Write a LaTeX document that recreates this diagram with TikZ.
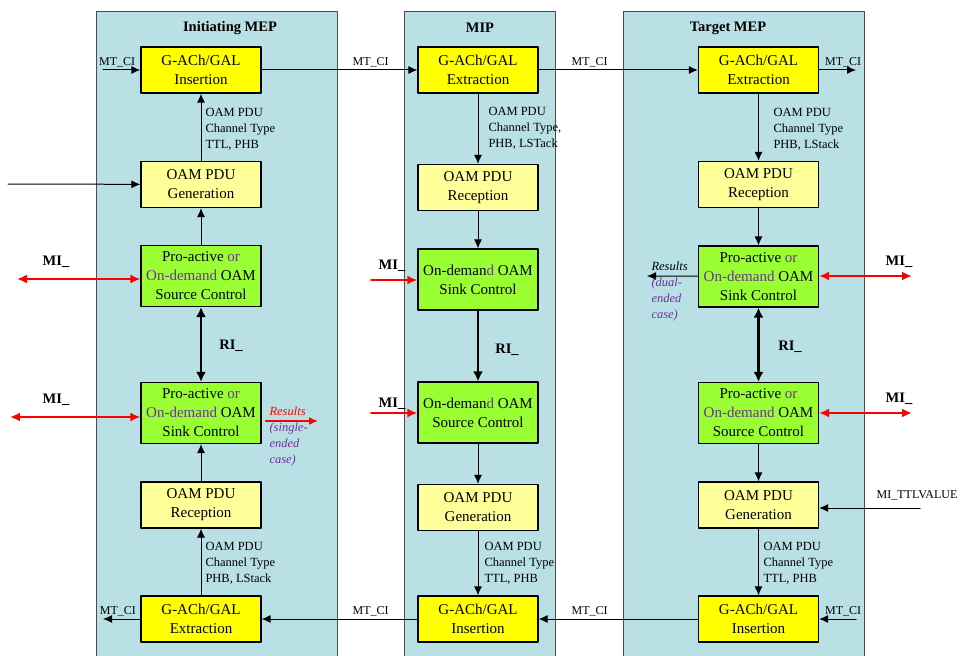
\documentclass[tikz,border=0pt]{standalone}
\usepackage{fontspec}
\setmainfont{Liberation Serif}
\usepackage{tikz}
\usetikzlibrary{arrows.meta}
\definecolor{panelblue}{RGB}{185,224,228}
\definecolor{gachyellow}{RGB}{255,255,0}
\definecolor{pduyellow}{RGB}{255,255,153}
\definecolor{ctrlgreen}{RGB}{153,255,51}
\definecolor{odpurple}{RGB}{112,48,160}
\newcommand\boxfnt{\fontsize{15}{19}\selectfont}
\newcommand\lblfnt{\fontsize{12.5}{16}\selectfont}
\newcommand\mtfnt{\fontsize{12}{14}\selectfont}
\newcommand\hdfnt{\fontsize{14.5}{17}\selectfont\bfseries}
\newcommand\od[1]{\textcolor{odpurple}{#1}}
\tikzset{
  panel/.style={draw=black!70,fill=panelblue,line width=1pt},
  gach/.style={draw,fill=gachyellow,line width=1.2pt,minimum width=120pt,minimum height=46pt,inner sep=0pt,align=center,font=\boxfnt},
  pdu/.style={gach,fill=pduyellow},
  ctrl/.style={gach,fill=ctrlgreen,minimum height=61pt},
  lbl/.style={font=\lblfnt,align=left,anchor=north west,inner sep=0pt},
  mtci/.style={font=\mtfnt,inner sep=2pt},
  hd/.style={font=\hdfnt,inner sep=0pt},
  flow/.style={-{Latex[length=9pt,width=8pt]},line width=1pt},
  ri/.style={{Latex[length=10pt,width=10pt]}-{Latex[length=10pt,width=10pt]},line width=2.5pt},
  rione/.style={-{Latex[length=10pt,width=10pt]},line width=2.5pt},
  mi/.style={{Latex[length=10pt,width=9pt]}-{Latex[length=10pt,width=9pt]},red,line width=2pt},
  mione/.style={-{Latex[length=10pt,width=9pt]},red,line width=2pt},
  res/.style={font=\lblfnt\itshape,text=odpurple,align=left,anchor=north west,inner sep=0pt}
}
\begin{document}
\begin{tikzpicture}[x=1pt,y=-1pt,line width=1pt,line cap=round,line join=round]
\useasboundingbox (0,0) rectangle (965,655);
\draw[panel] (96,12) rectangle (337,670);
\draw[panel] (404,12) rectangle (555,670);
\draw[panel] (623,12) rectangle (864,670);
\node[hd] (ltitle) at (230,28) {Initiating MEP};
\node[hd] (mtitle) at (480,28) {MIP};
\node[hd] (rtitle) at (728,28) {Target MEP};
% initiating MEP
\node[gach] (lins) at (201,70) {G-ACh/GAL\\Insertion};
\node[pdu] (lgen) at (201,184.5) {OAM PDU\\Generation};
\node[ctrl] (lsrc) at (201,276) {Pro-active \od{or}\\\od{On-demand} OAM\\Source Control};
\node[ctrl] (lsnk) at (201,413) {Pro-active \od{or}\\\od{On-demand} OAM\\Sink Control};
\node[pdu] (lrec) at (201,505) {OAM PDU\\Reception};
\node[gach] (lext) at (201,619) {G-ACh/GAL\\Extraction};
% MIP
\node[gach] (mext) at (478,70) {G-ACh/GAL\\Extraction};
\node[pdu] (mrec) at (478,187.5) {OAM PDU\\Reception};
\node[ctrl] (msnk) at (478,279.5) {On-deman\od{d} OAM\\Sink Control};
\node[ctrl] (msrc) at (478,412.5) {On-deman\od{d} OAM\\Source Control};
\node[pdu] (mgen) at (478,507.5) {OAM PDU\\Generation};
\node[gach] (mins) at (478,619) {G-ACh/GAL\\Insertion};
% target MEP
\node[gach] (rext) at (758.5,70) {G-ACh/GAL\\Extraction};
\node[pdu] (rrec) at (758.5,184.5) {OAM PDU\\Reception};
\node[ctrl] (rsnk) at (758.5,276.5) {Pro-active \od{or}\\\od{On-demand} OAM\\Sink Control};
\node[ctrl] (rsrc) at (758.5,413) {Pro-active \od{or}\\\od{On-demand} OAM\\Source Control};
\node[pdu] (rgen) at (758.5,505) {OAM PDU\\Generation};
\node[gach] (rins) at (758.5,619) {G-ACh/GAL\\Insertion};
\coordinate (lmtin) at (103,70);
\coordinate (lgenin) at (8,184);
\coordinate (lmi1) at (17,279);
\coordinate (lmi2) at (10,417);
\coordinate (lres) at (318,421);
\coordinate (lmtout) at (103,619);
\coordinate (mmi1) at (371,280);
\coordinate (mmi2) at (371,413);
\coordinate (rmtout) at (856,70);
\coordinate (rres) at (647,276);
\coordinate (rmi1) at (912,276);
\coordinate (rmi2) at (912,413);
\coordinate (rttl) at (920,508);
\coordinate (rmtin) at (856,619);
% left
\draw[flow] (lmtin) -- (lins) node[mtci,above,pos=0.38] {MT\_CI};
\draw[flow] (lins) -- (mext) node[mtci,above,pos=0.7] {MT\_CI};
\draw[flow] (lgenin) -- (lgen);
\draw[flow] (lgen) -- (lins);
\node[lbl] (llbl1) at (205,108) {OAM PDU\\Channel Type\\TTL, PHB};
\draw[flow] (lsrc) -- (lgen);
\draw[mi] (lmi1) -- (lmi1 -| lsrc.west);
\node[hd] (lmilbl1) at (56,262) {MI\_};
\draw[ri] (lsrc) -- (lsnk);
\node[hd] (lrilbl) at (231,346) {RI\_};
\draw[mi] (lmi2) -- (lmi2 -| lsnk.west);
\node[hd] (lmilbl2) at (56,400) {MI\_};
\draw[-{Latex[length=9pt,width=8pt]},red,line width=1.5pt,shorten <=4pt] (lsnk.east |- lres) -- (lres);
\node[res] (lreslbl) at (269,406) {\textcolor{red}{Results}\\(single-\\ended\\case)};
\draw[flow] (lrec) -- (lsnk);
\draw[flow] (lext) -- (lrec);
\node[lbl] (llbl2) at (205,542) {OAM PDU\\Channel Type\\PHB, LStack};
\draw[flow] (mins) -- (lext) node[mtci,above,pos=0.3] {MT\_CI};
\draw[flow] (lext) -- (lmtout) node[mtci,above,pos=0.6] {MT\_CI};
% middle
\draw[flow] (mext) -- (rext) node[mtci,above,pos=0.32] {MT\_CI};
\draw[flow] (mext) -- (mrec);
\node[lbl] (mlbl1) at (488,107) {OAM PDU\\Channel Type,\\PHB, LSTack};
\draw[flow] (mrec) -- (msnk);
\draw[mione] (mmi1) -- (mmi1 -| msnk.west);
\node[hd] (mmilbl1) at (392,266) {MI\_};
\draw[rione] (msnk) -- (msrc);
\node[hd] (mrilbl) at (507,350) {RI\_};
\draw[mione] (mmi2) -- (mmi2 -| msrc.west);
\node[hd] (mmilbl2) at (392,404) {MI\_};
\draw[flow] (msrc) -- (mgen);
\draw[flow] (mgen) -- (mins);
\node[lbl] (mlbl2) at (484,542) {OAM PDU\\Channel Type\\TTL, PHB};
\draw[flow] (rins) -- (mins) node[mtci,above,pos=0.68] {MT\_CI};
% right
\draw[flow] (rext) -- (rmtout) node[mtci,above,pos=0.65] {MT\_CI};
\draw[flow] (rext) -- (rrec);
\node[lbl] (rlbl1) at (773,108) {OAM PDU\\Channel Type\\PHB, LStack};
\draw[flow] (rrec) -- (rsnk);
\draw[flow] (rsnk) -- (rres);
\node[res] (rreslbl) at (651,261) {\textcolor{black}{Results}\\(dual-\\ended\\case)};
\draw[mi] (rmi1 -| rsnk.east) -- (rmi1);
\node[hd] (rmilbl1) at (899,262) {MI\_};
\draw[ri] (rsnk) -- (rsrc);
\node[hd] (rrilbl) at (790,347) {RI\_};
\draw[mi] (rmi2 -| rsrc.east) -- (rmi2);
\node[hd] (rmilbl2) at (899,399) {MI\_};
\draw[flow] (rsrc) -- (rgen);
\draw[flow] (rttl) -- (rttl -| rgen.east);
\node[mtci] (rttllbl) at (917,495) {MI\_TTLVALUE};
\draw[flow] (rgen) -- (rins);
\node[lbl] (rlbl2) at (763,542) {OAM PDU\\Channel Type\\TTL, PHB};
\draw[flow] (rmtin) -- (rins) node[mtci,above,pos=0.35] {MT\_CI};
\end{tikzpicture}
\end{document}
